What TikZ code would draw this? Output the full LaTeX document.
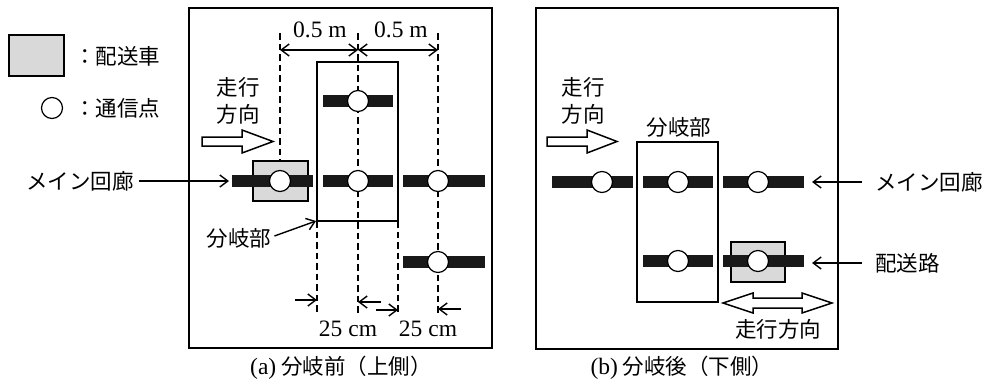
\documentclass[tikz,border=0pt]{standalone}
\usepackage{fontspec}
\setmainfont{Liberation Serif}
\newfontfamily\jp{Noto Sans CJK JP}
\usetikzlibrary{arrows.meta}
\tikzset{
  jptxt/.style={font=\jp\fontsize{21.5}{27}\selectfont, inner sep=0pt, align=center},
  lattxt/.style={font=\fontsize{23.5}{27}\selectfont, inner sep=0pt},
  frame/.style={draw=black, line width=1.4pt},
  branch/.style={draw=black, line width=2.8pt},
  bar/.style={fill=black!90},
  carst/.style={draw=black, line width=1.2pt, fill=black!15},
  cpt/.style={circle, draw=black, fill=white, line width=1.2pt, minimum size=21pt, inner sep=0pt},
  dashln/.style={draw=black, line width=1.6pt, dash pattern=on 6.5pt off 4pt},
  dimarr/.style={draw=black, line width=1.4pt, -{Straight Barb[length=8pt,width=12pt,line width=1.4pt]}},
  dimboth/.style={draw=black, line width=1.4pt, {Straight Barb[length=8pt,width=12pt,line width=1.4pt]}-{Straight Barb[length=8pt,width=12pt,line width=1.4pt]}},
  hollow/.style={draw=black, line width=1.5pt, fill=white, line join=miter},
}
\begin{document}
\begin{tikzpicture}[x=1pt,y=-1pt]
\useasboundingbox (0,0) rectangle (996,380);
\fill[white] (0,0) rectangle (996,380);

% ---------- legend ----------
\draw[carst] (9,35) rectangle (64,76);
\node[jptxt, anchor=west] (legcar) at (74,56) {：配送車};
\node[cpt] (legpt) at (52,108) {};
\node[jptxt, anchor=west] (legptxt) at (74,108) {：通信点};

% ---------- panel (a) ----------
\draw[frame] (189,8) rectangle (492,348);

% dashed guides
\draw[dashln] (280,33) -- (280,161);
\draw[dashln] (358,33) -- (358,315);
\draw[dashln] (438,33) -- (438,315);
\draw[dashln] (317,221) -- (317,315);
\draw[dashln] (398,221) -- (398,315);

% delivery car
\draw[carst] (253,161) rectangle (308,201);

% bars
\fill[bar] (232,175) rectangle (313,187);
\fill[bar] (323,175) rectangle (393,187);
\fill[bar] (403,175) rectangle (485,187);
\fill[bar] (323,95) rectangle (393,107);
\fill[bar] (403,256) rectangle (485,268);

% branch rectangle
\draw[branch] (317,62) rectangle (398,221);

% communication points
\node[cpt] (a1) at (280,181) {};
\node[cpt] (a2) at (358,181) {};
\node[cpt] (a3) at (438,181) {};
\node[cpt] (a4) at (358,101) {};
\node[cpt] (a5) at (438,262) {};

% top dimensions
\coordinate (d1) at (280,50);
\coordinate (d2) at (358,50);
\coordinate (d3) at (438,50);
\draw[dimboth] (d1) -- (d2);
\draw[dimboth] (d2) -- (d3);
\node[lattxt] (dimA) at (320,30) {0.5 m};
\node[lattxt] (dimB) at (401,30) {0.5 m};

% bottom dimensions
\coordinate (b1s) at (295,300); \coordinate (b1e) at (317,300);
\coordinate (b2s) at (381,302); \coordinate (b2e) at (358,302);
\coordinate (b3s) at (376,310); \coordinate (b3e) at (398,310);
\coordinate (b4s) at (461,309); \coordinate (b4e) at (438,309);
\draw[dimarr] (b1s) -- (b1e);
\draw[dimarr] (b2s) -- (b2e);
\draw[dimarr] (b3s) -- (b3e);
\draw[dimarr] (b4s) -- (b4e);
\node[lattxt] (cmA) at (348,329) {25 cm};
\node[lattxt] (cmB) at (428,329) {25 cm};

% travel direction (a)
\node[jptxt] (dirA) at (238,101) {走行\\方向};
\draw[hollow] (202,137) -- (242,137) -- (242,130) -- (273,141.5) -- (242,153) -- (242,146) -- (202,146) -- cycle;

% branch label (a)
\node[jptxt] (brA) at (239,238) {分岐部};
\coordinate (brAc) at (316,221);
\draw[dimarr] ([xshift=3pt,yshift=2pt]brA.east) -- (brAc);

% main corridor label (left)
\node[jptxt] (mainL) at (80,181) {メイン回廊};
\coordinate (mainLc) at (229,181);
\draw[dimarr] ([xshift=5pt]mainL.east) -- (mainLc);

\node[jptxt] (capA) at (341,368) {{\fontspec{Liberation Serif}\fontsize{23.5}{27}\selectfont(a)}\hspace{5pt}分岐前（上側）};

% ---------- panel (b) ----------
\draw[frame] (536,8) rectangle (838,349);

\draw[carst] (731,242) rectangle (785,282);

\fill[bar] (552,176) rectangle (633,188);
\fill[bar] (643,176) rectangle (713,188);
\fill[bar] (723,176) rectangle (804,188);
\fill[bar] (643,255) rectangle (713,267);
\fill[bar] (723,255) rectangle (804,267);

\draw[branch] (637,142) rectangle (718,302);

\node[cpt] (b1) at (602,182) {};
\node[cpt] (b2) at (678,182) {};
\node[cpt] (b3) at (758,182) {};
\node[cpt] (b4) at (678,261) {};
\node[cpt] (b5) at (758,261) {};

\node[jptxt] (brB) at (679,127) {分岐部};
\node[jptxt] (dirB) at (583,101) {走行\\方向};
\draw[hollow] (547,137) -- (587,137) -- (587,130) -- (617,141.5) -- (587,153) -- (587,146) -- (547,146) -- cycle;

\draw[hollow] (723,303) -- (753,293) -- (753,298) -- (802,298) -- (802,293) -- (832,303) -- (802,313) -- (802,308) -- (753,308) -- (753,313) -- cycle;
\node[jptxt] (dirB2) at (778,329) {走行方向};

\node[jptxt, anchor=west] (mainR) at (875,182) {メイン回廊};
\coordinate (mainRc) at (812,182);
\draw[dimarr] ([xshift=-13pt]mainR.west) -- (mainRc);

\node[jptxt, anchor=west] (roadR) at (875,263) {配送路};
\coordinate (roadRc) at (812,263);
\draw[dimarr] ([xshift=-13pt]roadR.west) -- (roadRc);

\node[jptxt] (capB) at (682,368) {{\fontspec{Liberation Serif}\fontsize{23.5}{27}\selectfont(b)}\hspace{5pt}分岐後（下側）};
\end{tikzpicture}
\end{document}
